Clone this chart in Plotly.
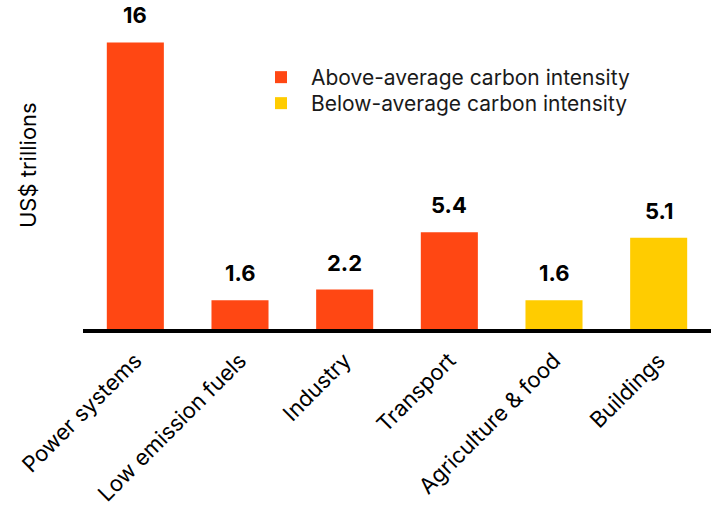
import plotly.graph_objects as go

categories = ["Power systems", "Low emission fuels", "Industry", "Transport", "Agriculture & food", "Buildings"]
values = [16, 1.6, 2.2, 5.4, 1.6, 5.1]
labels = ["16", "1.6", "2.2", "5.4", "1.6", "5.1"]
groups = ["Above-average carbon intensity", "Above-average carbon intensity", "Above-average carbon intensity",
          "Above-average carbon intensity", "Below-average carbon intensity", "Below-average carbon intensity"]
group_colors = {"Above-average carbon intensity": "#FF4713", "Below-average carbon intensity": "#FFCC00"}

FONT = "Inter"
ML, MR, MT, MB = 83, 0, 3, 177
W, H = 711, 506
pw = W - ML - MR
ph = H - MT - MB

fig = go.Figure()
legend_names = ["legend", "legend2"]
for (g, col), lg in zip(group_colors.items(), legend_names):
    xs = [c for c, gg in zip(categories, groups) if gg == g]
    ys = [v for v, gg in zip(values, groups) if gg == g]
    fig.add_trace(go.Bar(
        x=xs, y=ys, name=g, legend=lg, marker=dict(color=col, line=dict(width=0)),
    ))

annotations = [dict(x=c, y=v, text=t, xref="x", yref="y", showarrow=False, yanchor="bottom",
                    yshift=12, font=dict(family=FONT, size=22, color="black", weight="bold"))
               for c, v, t in zip(categories, values, labels)]
annotations.append(dict(text="US$ trillions", textangle=-90, x=(28 - ML) / pw, y=(H - MB - 165) / ph,
                        xref="paper", yref="paper", xanchor="center", yanchor="middle",
                        showarrow=False, font=dict(family=FONT, size=22, color="black")))

def legend_at(px_x, px_top):
    return dict(x=(px_x - ML) / pw, y=(H - MB - px_top) / ph, xanchor="left", yanchor="top",
                bgcolor="rgba(0,0,0,0)", itemwidth=50,
                font=dict(family=FONT, size=21, color="#1a1a1a"))

fig.update_layout(
    width=W, height=H,
    margin=dict(l=ML, r=MR, t=MT, b=MB),
    paper_bgcolor="white", plot_bgcolor="white",
    barmode="overlay", bargap=0.455,
    font=dict(family=FONT, size=21, color="black"),
    showlegend=True,
    legend=legend_at(251, 57),
    legend2=legend_at(251, 83),
    xaxis=dict(categoryorder="array", categoryarray=categories, range=[-0.5, 5.5],
               showline=True, linecolor="black", linewidth=4, ticks="",
               tickangle=-45, tickfont=dict(family=FONT, size=22, color="black"),
               ticklabelstandoff=6, showgrid=False, zeroline=False),
    yaxis=dict(range=[0, 18.2], showticklabels=False, showgrid=False, zeroline=False,
               showline=False, ticks=""),
    annotations=annotations,
)
fig.write_html("out.html")
